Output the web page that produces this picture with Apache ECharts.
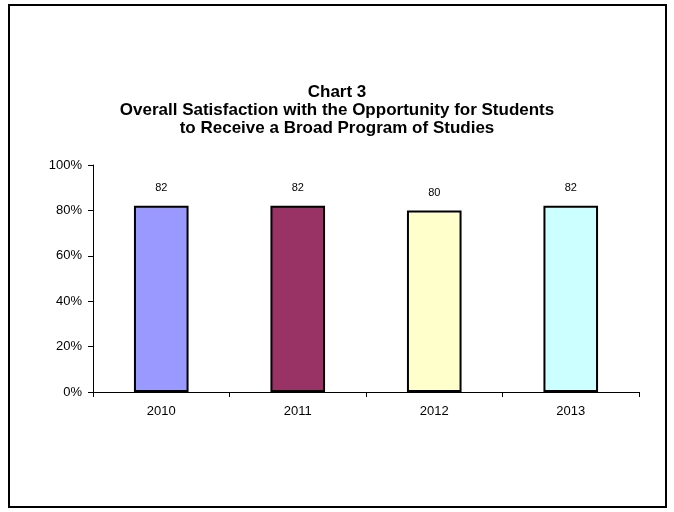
<!DOCTYPE html>
<html>
<head>
<meta charset="utf-8">
<script src="https://cdn.jsdelivr.net/npm/echarts@6/dist/echarts.min.js"></script>
<style>
  html, body { margin: 0; padding: 0; background: #fff; }
  #chart { width: 674px; height: 512px; }
</style>
</head>
<body>
<div id="chart"></div>
<script>
// Survey years and overall satisfaction (percent)
const years = ['2010', '2011', '2012', '2013'];
const satisfaction = [82, 82, 80, 82];
const barColors = ['#9999FF', '#993366', '#FFFFCC', '#CCFFFF'];
const yTicks = [0, 20, 40, 60, 80, 100];

const titleLines = [
  'Chart 3',
  'Overall Satisfaction with the Opportunity for Students',
  'to Receive a Broad Program of Studies'
];

const font = '"Liberation Sans", Arial, sans-serif';
const chart = echarts.init(document.getElementById('chart'), null, { renderer: 'canvas' });

chart.setOption({
  animation: false,
  backgroundColor: '#fff',
  textStyle: { fontFamily: font },
  title: {
    text: titleLines.join('\n'),
    left: 'center',
    top: 83,
    padding: 0,
    textStyle: {
      fontFamily: font,
      fontSize: 17,
      fontWeight: 'bold',
      color: '#000',
      lineHeight: 18
    }
  },
  graphic: [{
    type: 'rect',
    shape: { x: 9, y: 5, width: 657, height: 502 },
    style: { fill: 'none', stroke: '#000', lineWidth: 2 },
    silent: true,
    z: 100
  }],
  grid: { left: 93, right: 35, top: 165, bottom: 120, containLabel: false },
  xAxis: {
    type: 'category',
    data: years,
    axisLine: { lineStyle: { color: '#000', width: 1 } },
    axisTick: { show: true, alignWithLabel: false, length: 5, lineStyle: { color: '#000' } },
    axisLabel: { color: '#000', fontSize: 13, margin: 13, fontFamily: font }
  },
  yAxis: {
    type: 'value',
    min: yTicks[0],
    max: yTicks[yTicks.length - 1],
    interval: 20,
    axisLine: { show: true, lineStyle: { color: '#000', width: 1 } },
    axisTick: { show: true, length: 5, lineStyle: { color: '#000' } },
    splitLine: { show: false },
    axisLabel: { color: '#000', fontSize: 13, margin: 11, fontFamily: font, formatter: '{value}%' }
  },
  series: [{
    type: 'bar',
    data: satisfaction.map((v, i) => ({
      value: v,
      itemStyle: { color: barColors[i] }
    })),
    barWidth: '40%',
    itemStyle: { borderColor: '#000', borderWidth: 2 },
    label: {
      show: true,
      position: 'top',
      distance: 12,
      color: '#000',
      fontSize: 11,
      fontFamily: font
    }
  }]
});
</script>
</body>
</html>
